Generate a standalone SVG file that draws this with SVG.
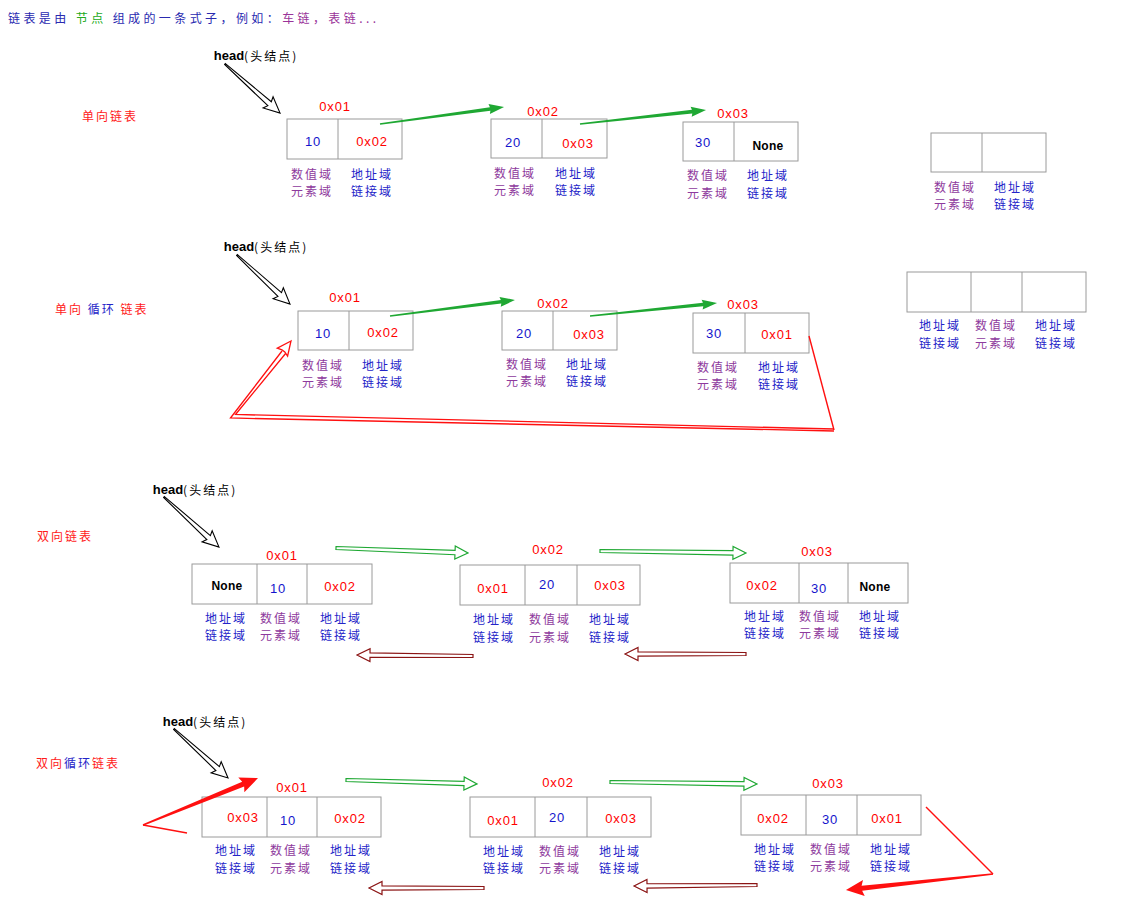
<svg xmlns="http://www.w3.org/2000/svg" width="1148" height="924" viewBox="0 0 1148 924">
<style>
.cjk{font-family:"Noto Sans CJK SC","Noto Sans CJK JP",sans-serif;font-size:12px;letter-spacing:2px;text-anchor:middle;dominant-baseline:central}
.lp{fill:#8E3A9D}
.lb{fill:#2424C8}
.red{fill:#FF1A1A}
.hex{font-family:"Liberation Sans",Arial,sans-serif;font-size:13px;fill:#FF0000;text-anchor:middle;dominant-baseline:central;letter-spacing:0.8px}
.num{fill:#1414CC}
.none{fill:#000;font-weight:bold;font-size:12px;letter-spacing:0.3px}
.box{fill:#fff;stroke:#9a9a9a;stroke-width:1}
.div{stroke:#9a9a9a;stroke-width:1}
.head{font-family:"Liberation Sans","Noto Sans CJK SC",sans-serif;font-size:13px;fill:#000;text-anchor:middle;dominant-baseline:central}
.hc{font-family:"Noto Sans CJK SC",sans-serif;font-size:12px;letter-spacing:2px}
.ha{fill:#fff;stroke:#000;stroke-width:1.1;stroke-linejoin:miter}
.gf{fill:#1FA833}
.gh{fill:#fff;stroke:#1FA833;stroke-width:1.2}
.rh{fill:#fff;stroke:#8B1414;stroke-width:1.2}
.rt{fill:#FF1010}
.rl{fill:none;stroke:#FF1010;stroke-width:1.4}
</style>
<rect width="1148" height="924" fill="#fff"/>

<g id="title">
<text x="8" y="17" class="cjk" style="text-anchor:start" textLength="370" lengthAdjust="spacing"><tspan fill="#2A2AB0">链表是由 </tspan><tspan fill="#22AA22">节点</tspan><tspan fill="#2A2AB0"> 组成的一条式子，例如：</tspan><tspan fill="#993399">车链，表链...</tspan></text>
</g>

<!-- Section labels -->
<g id="label-s1"><text x="110" y="115" class="cjk red">单向链表</text></g>
<g id="label-s2"><text x="55" y="308" class="cjk" style="text-anchor:start"><tspan fill="#FF1A1A">单向</tspan> <tspan fill="#2424C8">循环</tspan> <tspan fill="#FF1A1A">链表</tspan></text></g>
<g id="label-s3"><text x="65" y="535" class="cjk red">双向链表</text></g>
<g id="label-s4"><text x="36" y="762" class="cjk" style="text-anchor:start"><tspan fill="#FF1A1A">双向</tspan><tspan fill="#2424C8">循环</tspan><tspan fill="#FF1A1A">链表</tspan></text></g>

<!-- head labels -->
<g id="head1"><text x="256" y="55" class="head"><tspan font-weight="bold">head</tspan><tspan class="hc">(头结点)</tspan></text></g>
<g id="head2"><text x="266" y="246" class="head"><tspan font-weight="bold">head</tspan><tspan class="hc">(头结点)</tspan></text></g>
<g id="head3"><text x="195" y="489" class="head"><tspan font-weight="bold">head</tspan><tspan class="hc">(头结点)</tspan></text></g>
<g id="head4"><text x="205" y="721" class="head"><tspan font-weight="bold">head</tspan><tspan class="hc">(头结点)</tspan></text></g>

<!-- Section 1 -->
<g id="s1-n1">
<text x="335" y="106" class="hex">0x01</text>
<rect x="287" y="119" width="115" height="40" class="box"/><line x1="338" y1="119" x2="338" y2="159" class="div"/>
<text x="313" y="141" class="hex num">10</text><text x="372" y="141" class="hex">0x02</text>
<text x="312" y="173" class="cjk lp">数值域</text><text x="312" y="190" class="cjk lp">元素域</text>
<text x="372" y="173" class="cjk lb">地址域</text><text x="372" y="190" class="cjk lb">链接域</text>
</g>
<g id="s1-n2">
<text x="543" y="111" class="hex">0x02</text>
<rect x="491" y="119" width="116" height="39" class="box"/><line x1="542" y1="119" x2="542" y2="158" class="div"/>
<text x="513" y="142" class="hex num">20</text><text x="578" y="143" class="hex">0x03</text>
<text x="515" y="172" class="cjk lp">数值域</text><text x="515" y="189" class="cjk lp">元素域</text>
<text x="576" y="172" class="cjk lb">地址域</text><text x="576" y="189" class="cjk lb">链接域</text>
</g>
<g id="s1-n3">
<text x="733" y="113" class="hex">0x03</text>
<rect x="683" y="122" width="115" height="39" class="box"/><line x1="734" y1="122" x2="734" y2="161" class="div"/>
<text x="703" y="142" class="hex num">30</text><text x="768" y="146" class="hex none">None</text>
<text x="708" y="174" class="cjk lp">数值域</text><text x="708" y="192" class="cjk lp">元素域</text>
<text x="768" y="174" class="cjk lb">地址域</text><text x="768" y="192" class="cjk lb">链接域</text>
</g>
<g id="template1">
<rect x="931" y="133" width="115" height="39" class="box"/><line x1="982" y1="133" x2="982" y2="172" class="div"/>
<text x="955" y="186" class="cjk lp">数值域</text><text x="955" y="203" class="cjk lp">元素域</text>
<text x="1015" y="186" class="cjk lb">地址域</text><text x="1015" y="203" class="cjk lb">链接域</text>
</g>

<!-- Section 2 -->
<g id="s2-n1">
<text x="345" y="297" class="hex">0x01</text>
<rect x="298" y="311" width="115" height="39" class="box"/><line x1="349" y1="311" x2="349" y2="350" class="div"/>
<text x="323" y="333" class="hex num">10</text><text x="383" y="332" class="hex">0x02</text>
<text x="323" y="364" class="cjk lp">数值域</text><text x="323" y="381" class="cjk lp">元素域</text>
<text x="383" y="364" class="cjk lb">地址域</text><text x="383" y="381" class="cjk lb">链接域</text>
</g>
<g id="s2-n2">
<text x="553" y="303" class="hex">0x02</text>
<rect x="502" y="311" width="115" height="39" class="box"/><line x1="553" y1="311" x2="553" y2="350" class="div"/>
<text x="524" y="333" class="hex num">20</text><text x="589" y="334" class="hex">0x03</text>
<text x="527" y="363" class="cjk lp">数值域</text><text x="527" y="380" class="cjk lp">元素域</text>
<text x="587" y="363" class="cjk lb">地址域</text><text x="587" y="380" class="cjk lb">链接域</text>
</g>
<g id="s2-n3">
<text x="743" y="304" class="hex">0x03</text>
<rect x="693" y="313" width="116" height="40" class="box"/><line x1="745" y1="313" x2="745" y2="353" class="div"/>
<text x="714" y="333" class="hex num">30</text><text x="777" y="334" class="hex">0x01</text>
<text x="718" y="366" class="cjk lp">数值域</text><text x="718" y="383" class="cjk lp">元素域</text>
<text x="779" y="366" class="cjk lb">地址域</text><text x="779" y="383" class="cjk lb">链接域</text>
</g>
<g id="template2">
<rect x="907" y="272" width="179" height="40" class="box"/><line x1="971" y1="272" x2="971" y2="312" class="div"/><line x1="1022" y1="272" x2="1022" y2="312" class="div"/>
<text x="940" y="324" class="cjk lb">地址域</text><text x="940" y="342" class="cjk lb">链接域</text>
<text x="996" y="324" class="cjk lp">数值域</text><text x="996" y="342" class="cjk lp">元素域</text>
<text x="1056" y="324" class="cjk lb">地址域</text><text x="1056" y="342" class="cjk lb">链接域</text>
</g>

<!-- Section 3 -->
<g id="s3-n1">
<text x="282" y="555" class="hex">0x01</text>
<rect x="192" y="564" width="180" height="40" class="box"/><line x1="257" y1="564" x2="257" y2="604" class="div"/><line x1="307" y1="564" x2="307" y2="604" class="div"/>
<text x="227" y="586" class="hex none">None</text><text x="278" y="588" class="hex num">10</text><text x="340" y="586" class="hex">0x02</text>
<text x="226" y="617" class="cjk lb">地址域</text><text x="226" y="634" class="cjk lb">链接域</text>
<text x="281" y="617" class="cjk lp">数值域</text><text x="281" y="634" class="cjk lp">元素域</text>
<text x="341" y="617" class="cjk lb">地址域</text><text x="341" y="634" class="cjk lb">链接域</text>
</g>
<g id="s3-n2">
<text x="548" y="549" class="hex">0x02</text>
<rect x="460" y="565" width="180" height="40" class="box"/><line x1="525" y1="565" x2="525" y2="605" class="div"/><line x1="577" y1="565" x2="577" y2="605" class="div"/>
<text x="493" y="588" class="hex">0x01</text><text x="547" y="584" class="hex num">20</text><text x="610" y="585" class="hex">0x03</text>
<text x="494" y="618" class="cjk lb">地址域</text><text x="494" y="636" class="cjk lb">链接域</text>
<text x="550" y="618" class="cjk lp">数值域</text><text x="550" y="636" class="cjk lp">元素域</text>
<text x="610" y="618" class="cjk lb">地址域</text><text x="610" y="636" class="cjk lb">链接域</text>
</g>
<g id="s3-n3">
<text x="817" y="551" class="hex">0x03</text>
<rect x="730" y="563" width="178" height="40" class="box"/><line x1="799" y1="563" x2="799" y2="603" class="div"/><line x1="848" y1="563" x2="848" y2="603" class="div"/>
<text x="762" y="585" class="hex">0x02</text><text x="819" y="588" class="hex num">30</text><text x="875" y="587" class="hex none">None</text>
<text x="765" y="615" class="cjk lb">地址域</text><text x="765" y="632" class="cjk lb">链接域</text>
<text x="820" y="615" class="cjk lp">数值域</text><text x="820" y="632" class="cjk lp">元素域</text>
<text x="880" y="615" class="cjk lb">地址域</text><text x="880" y="632" class="cjk lb">链接域</text>
</g>

<!-- Section 4 -->
<g id="s4-n1">
<text x="292" y="787" class="hex">0x01</text>
<rect x="202" y="797" width="179" height="40" class="box"/><line x1="267" y1="797" x2="267" y2="837" class="div"/><line x1="317" y1="797" x2="317" y2="837" class="div"/>
<text x="243" y="817" class="hex">0x03</text><text x="288" y="820" class="hex num">10</text><text x="350" y="818" class="hex">0x02</text>
<text x="236" y="849" class="cjk lb">地址域</text><text x="236" y="867" class="cjk lb">链接域</text>
<text x="291" y="849" class="cjk lp">数值域</text><text x="291" y="867" class="cjk lp">元素域</text>
<text x="351" y="849" class="cjk lb">地址域</text><text x="351" y="867" class="cjk lb">链接域</text>
</g>
<g id="s4-n2">
<text x="558" y="782" class="hex">0x02</text>
<rect x="470" y="797" width="181" height="40" class="box"/><line x1="535" y1="797" x2="535" y2="837" class="div"/><line x1="587" y1="797" x2="587" y2="837" class="div"/>
<text x="503" y="820" class="hex">0x01</text><text x="557" y="817" class="hex num">20</text><text x="621" y="818" class="hex">0x03</text>
<text x="504" y="850" class="cjk lb">地址域</text><text x="504" y="867" class="cjk lb">链接域</text>
<text x="560" y="850" class="cjk lp">数值域</text><text x="560" y="867" class="cjk lp">元素域</text>
<text x="620" y="850" class="cjk lb">地址域</text><text x="620" y="867" class="cjk lb">链接域</text>
</g>
<g id="s4-n3">
<text x="828" y="783" class="hex">0x03</text>
<rect x="741" y="795" width="180" height="40" class="box"/><line x1="806" y1="795" x2="806" y2="835" class="div"/><line x1="857" y1="795" x2="857" y2="835" class="div"/>
<text x="773" y="818" class="hex">0x02</text><text x="830" y="819" class="hex num">30</text><text x="887" y="818" class="hex">0x01</text>
<text x="775" y="848" class="cjk lb">地址域</text><text x="775" y="865" class="cjk lb">链接域</text>
<text x="831" y="848" class="cjk lp">数值域</text><text x="831" y="865" class="cjk lp">元素域</text>
<text x="891" y="848" class="cjk lb">地址域</text><text x="891" y="865" class="cjk lb">链接域</text>
</g>

<g id="connectors">
<!-- head arrows -->
<polygon class="ha" transform="translate(225,64) rotate(41.7)" points="0,-0.6 59.7,-2.6 57.7,-7.5 73.7,0 57.7,7.5 59.7,2.6 0,0.6"/>
<polygon class="ha" transform="translate(237,255) rotate(42.8)" points="0,-0.6 58.2,-2.6 56.2,-7.5 72.2,0 56.2,7.5 58.2,2.6 0,0.6"/>
<polygon class="ha" transform="translate(164,497) rotate(42.3)" points="0,-0.6 60.3,-2.6 58.3,-7.5 74.3,0 58.3,7.5 60.3,2.6 0,0.6"/>
<polygon class="ha" transform="translate(174,729) rotate(42.2)" points="0,-0.6 58.9,-2.6 56.9,-7.5 72.9,0 56.9,7.5 58.9,2.6 0,0.6"/>

<!-- section 1 green -->
<polygon class="gf" transform="translate(380,124) rotate(-7.8)" points="0,-0.7 111.2,-1.8 110.2,-5 125.2,0 110.2,5 111.2,1.8 0,0.7"/>
<polygon class="gf" transform="translate(580,124) rotate(-6.3)" points="0,-0.7 112.8,-1.8 111.8,-5 126.8,0 111.8,5 112.8,1.8 0,0.7"/>
<!-- section 2 green -->
<polygon class="gf" transform="translate(390,316) rotate(-7.3)" points="0,-0.7 112,-1.8 111,-5 126,0 111,5 112,1.8 0,0.7"/>
<polygon class="gf" transform="translate(590,316) rotate(-5.8)" points="0,-0.7 113.7,-1.8 112.7,-5 127.7,0 112.7,5 113.7,1.8 0,0.7"/>
<!-- section 2 red loop -->
<polyline class="rl" points="809,336 834,430"/>
<polyline points="834,431 230.5,418 282,351" fill="none" stroke="#FF1010" stroke-width="1.3" stroke-linejoin="miter"/>
<polyline points="834,429 235.5,414.5 286,353" fill="none" stroke="#FF1010" stroke-width="1.3" stroke-linejoin="miter"/>
<polygon transform="translate(291,341) rotate(-52.3)" points="0,0 -14,-6.5 -12.5,-1.8 -12.5,1.8 -14,6.5" fill="#fff" stroke="#FF1010" stroke-width="1.3"/>

<!-- section 3 -->
<polygon class="gh" transform="translate(336,548) rotate(2.2)" points="0,-1.5 119.1,-2.2 119.1,-6.5 132.1,0 119.1,6.5 119.1,2.2 0,1.5"/>
<polygon class="gh" transform="translate(600,551) rotate(0.8)" points="0,-1.5 133,-2.2 133,-6.5 146,0 133,6.5 133,2.2 0,1.5"/>
<polygon class="rh" transform="translate(473,656) rotate(180.5)" points="0,-1.5 103,-2.2 103,-6.5 116,0 103,6.5 103,2.2 0,1.5"/>
<polygon class="rh" transform="translate(746,654) rotate(180)" points="0,-1.5 108,-2.2 108,-6.5 121,0 108,6.5 108,2.2 0,1.5"/>

<!-- section 4 -->
<polygon class="gh" transform="translate(346,780) rotate(1.7)" points="0,-1.5 118.1,-2.2 118.1,-6.5 131.1,0 118.1,6.5 118.1,2.2 0,1.5"/>
<polygon class="gh" transform="translate(610,782) rotate(0.8)" points="0,-1.5 134,-2.2 134,-6.5 147,0 134,6.5 134,2.2 0,1.5"/>
<polygon class="rh" transform="translate(484,888) rotate(180)" points="0,-1.5 102,-2.2 102,-6.5 115,0 102,6.5 102,2.2 0,1.5"/>
<polygon class="rh" transform="translate(757,885) rotate(179.5)" points="0,-1.5 110,-2.2 110,-6.5 123,0 110,6.5 110,2.2 0,1.5"/>
<line class="rl" x1="143" y1="825" x2="187" y2="833"/>
<polygon class="rt" transform="translate(143,825) rotate(-22.2)" points="0,-0.8 108.2,-2.6 106.2,-8 124.2,0 106.2,8 108.2,2.6 0,0.8"/>
<line class="rl" x1="926" y1="807" x2="993" y2="874"/>
<polygon class="rt" transform="translate(993,874) rotate(173.8)" points="0,-0.8 131.9,-2.6 129.9,-8 147.9,0 129.9,8 131.9,2.6 0,0.8"/>
</g>
</svg>
